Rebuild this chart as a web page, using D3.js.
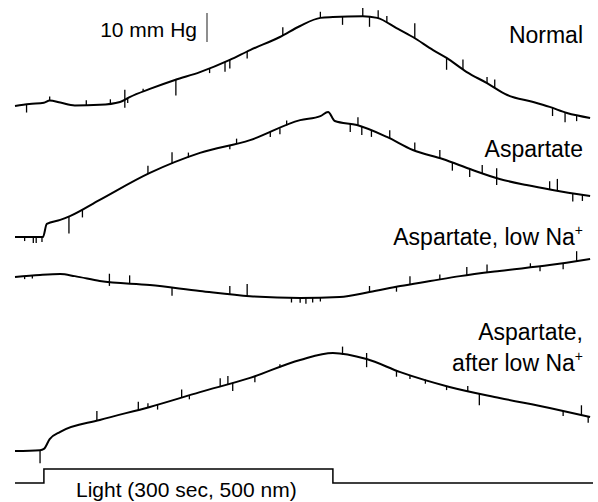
<!DOCTYPE html>
<html>
<head>
<meta charset="utf-8">
<script src="https://cdn.jsdelivr.net/npm/d3@7"></script>
<style>
  body { margin: 0; background: #fff; }
  text { font-family: "Liberation Sans", Arial, sans-serif; fill: #000; }
</style>
</head>
<body>
<svg id="chart" width="598" height="502"></svg>
<script>
// time in seconds (light on at 0), pressure change in mm Hg from pre-light level
const normal = [[-30,-0.7],[-15,0],[0,0.4],[6,1.2],[17,0.5],[32,-0.5],[58,-0.3],[79,0.7],[89,2.4],[110,5.2],[136,8.3],[162,11.0],[193,15.2],[214,18.6],[245,23.1],[266,26.9],[287,29.7],[300,30.0],[331,30.3],[346,29.7],[366,26.2],[383,23.1],[404,18.6],[418,15.9],[439,11.0],[460,7.2],[481,3.1],[508,0.7],[525,-1.0],[543,-3.1],[567,-4.8]]
const aspartate = [[-30,0],[-15,0],[-1,0],[3,4.5],[17,5.9],[27,7.2],[58,12.8],[110,22.1],[162,29.0],[214,33.4],[266,40.3],[287,41.7],[295,43.1],[302,40.0],[325,38.6],[356,34.5],[383,30.0],[414,26.9],[445,23.1],[473,20.0],[501,17.9],[528,16.2],[567,14.1]]
const lowNa = [[-30,0],[-4,0.7],[17,1.0],[32,0.3],[58,-1.4],[110,-2.8],[162,-4.8],[214,-6.6],[266,-7.2],[307,-6.9],[338,-5.2],[370,-3.1],[401,-1.4],[432,0.3],[473,2.1],[525,4.1],[567,6.2]]
const afterLowNa = [[-30,0],[-4,0.3],[0,0.7],[6,4.1],[17,6.6],[58,10.7],[110,15.2],[162,20.3],[214,25.2],[266,31.4],[300,33.8],[335,31.7],[370,27.2],[421,22.1],[473,18.3],[525,14.8],[567,11.7]]

// artefact spikes: [time, excursion in mm Hg]
const normalSpikes = [[-18,-2.8],[6,1.4],[44,1.7],[69,1.4],[84,3.4],[84,-2.8],[87,-1.7],[103,1.0],[137,-5.5],[172,-1.7],[188,-3.4],[193,-3.0],[211,-2.4],[248,2.8],[287,2.1],[310,-2.8],[331,2.8],[338,-3.4],[347,2.8],[356,2.4],[385,5.2],[418,-4.1],[435,3.4],[460,2.1],[468,2.8],[528,-2.8],[541,-3.4],[553,-2.1]]
const aspartateSpikes = [[-20,-1.4],[-11,-2.1],[-8,-2.1],[-2,-1.7],[26,-5.9],[40,-2.8],[108,2.8],[133,4.1],[150,1.7],[193,-1.4],[200,1.7],[235,-1.7],[245,-2.1],[252,1.7],[318,-2.8],[326,2.8],[330,-2.8],[340,-2.1],[359,2.8],[385,2.8],[411,2.8],[424,-2.8],[442,-2.8],[455,2.8],[470,3.4],[470,-2.4],[525,2.8],[533,4.1],[549,-2.8],[559,-2.1]]
const lowNaSpikes = [[-20,-1.0],[-12,-1.0],[68,2.8],[68,-1.4],[89,2.8],[133,-2.8],[193,2.8],[211,4.1],[257,-1.7],[266,-1.7],[272,-2.1],[279,-1.7],[287,-1.4],[338,2.1],[366,-1.7],[380,2.8],[411,1.7],[439,2.8],[460,2.8],[505,1.4],[515,-1.7],[539,-2.1],[553,3.4]]
const afterLowNaSpikes = [[-4,-4.5],[55,3.4],[98,2.8],[108,1.4],[118,-1.7],[143,2.8],[151,-1.4],[183,2.8],[191,2.8],[196,-2.8],[219,-2.1],[245,1.0],[310,2.8],[335,2.1],[335,-2.8],[366,-2.1],[380,-1.4],[396,-1.4],[418,-1.4],[440,1.7],[452,-4.1],[539,-1.7],[558,3.4],[565,-2.1]]

// light stimulus: [time, on/off]
const light = [[-30,0],[0,1],[300,0],[570,0]]
const lightLabel = 'Light (300 sec, 500 nm)'
const scaleBarMmHg = 10

const svg = d3.select('#chart')

const x = d3.scaleLinear().domain([-30, 570]).range([15, 593])
const dy = d3.scaleLinear().domain([0, 10]).range([0, -29])

const traces = [
  { data: normal, spikes: normalSpikes, base: 104, label: ['Normal'], labelY: 43 },
  { data: aspartate, spikes: aspartateSpikes, base: 237, label: ['Aspartate'], labelY: 157 },
  { data: lowNa, spikes: lowNaSpikes, base: 277, label: ['Aspartate, low Na', '+'], labelY: 245 },
  { data: afterLowNa, spikes: afterLowNaSpikes, base: 451, label: ['Aspartate,'], labelY: 340, label2: ['after low Na', '+'] }
]

function valueAt(data, t) {
  for (let i = 1; i < data.length; i++) {
    if (t <= data[i][0]) {
      const a = data[i - 1], b = data[i]
      return a[1] + (b[1] - a[1]) * (t - a[0]) / (b[0] - a[0])
    }
  }
  return data[data.length - 1][1]
}

const line = d3.line()
  .x(d => x(d[0]))
  .y(d => dy(d[1]))
  .curve(d3.curveMonotoneX)

function addLabel(parts, yPos) {
  const t = svg.append('text')
    .attr('x', 583).attr('y', yPos)
    .attr('text-anchor', 'end')
    .style('font-size', '23px')
  t.append('tspan').text(parts[0])
  if (parts[1]) {
    t.append('tspan').attr('dy', -10).style('font-size', '14px').text(parts[1])
  }
}

traces.forEach(function (tr) {
  const g = svg.append('g').attr('transform', 'translate(0,' + tr.base + ')')
  g.append('path')
    .datum(tr.data)
    .attr('d', line)
    .attr('fill', 'none')
    .attr('stroke', '#000')
    .attr('stroke-width', 2)
    .attr('stroke-linejoin', 'round')
  g.selectAll('line.spike')
    .data(tr.spikes)
    .enter().append('line')
    .attr('class', 'spike')
    .attr('x1', d => x(d[0])).attr('x2', d => x(d[0]))
    .attr('y1', d => dy(valueAt(tr.data, d[0])))
    .attr('y2', d => dy(valueAt(tr.data, d[0]) + d[1]))
    .attr('stroke', '#000')
    .attr('stroke-width', 1.3)
  addLabel(tr.label, tr.labelY)
  if (tr.label2) addLabel(tr.label2, tr.labelY + 31)
})

// scale bar
const barBottom = 42
svg.append('line')
  .attr('x1', 207).attr('x2', 207)
  .attr('y1', barBottom).attr('y2', barBottom + dy(scaleBarMmHg))
  .attr('stroke', '#444').attr('stroke-width', 1.2)
svg.append('text')
  .attr('x', 197).attr('y', 37)
  .attr('text-anchor', 'end')
  .style('font-size', '21px')
  .text(scaleBarMmHg + ' mm Hg')

// light stimulus trace
const ly = d3.scaleLinear().domain([0, 1]).range([483, 469])
svg.append('path')
  .datum(light)
  .attr('d', d3.line().x(d => x(d[0])).y(d => ly(d[1])).curve(d3.curveStepAfter))
  .attr('fill', 'none')
  .attr('stroke', '#000')
  .attr('stroke-width', 1.5)
svg.append('text')
  .attr('x', 76).attr('y', 497)
  .style('font-size', '21px')
  .text(lightLabel)
</script>
</body>
</html>
